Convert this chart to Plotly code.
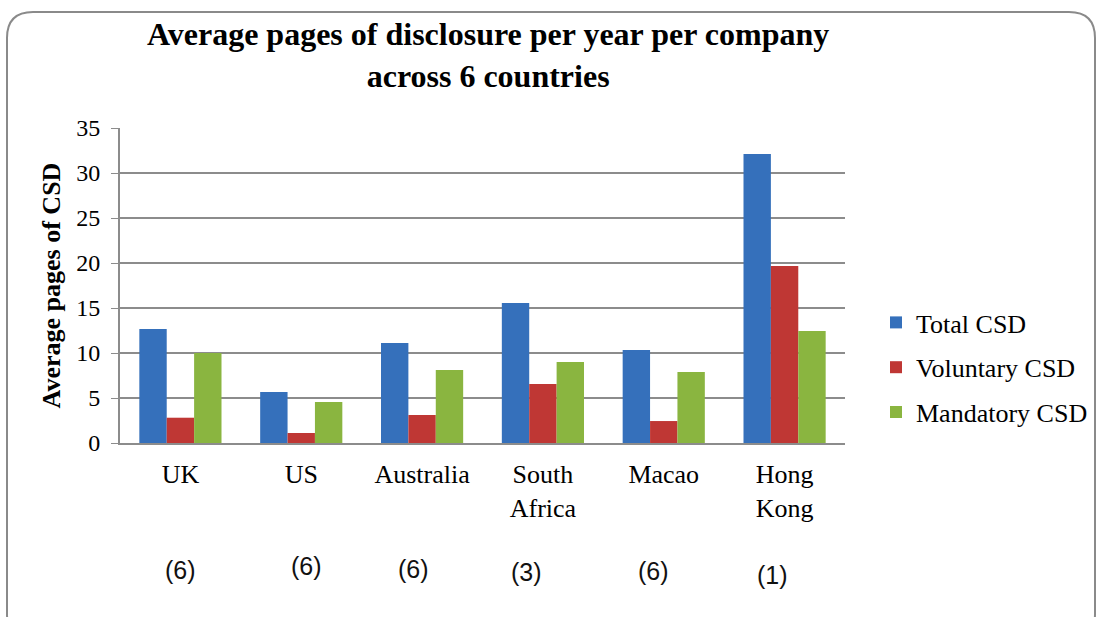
import plotly.graph_objects as go

# Average pages of CSD per company per year, by country
countries = ["UK", "US", "Australia", "South<br>Africa", "Macao", "Hong<br>Kong"]
total_csd = [12.67, 5.67, 11.1, 15.56, 10.33, 32.1]
voluntary_csd = [2.81, 1.11, 3.11, 6.56, 2.44, 19.67]
mandatory_csd = [10.0, 4.56, 8.1, 9.0, 7.89, 12.44]
# number of companies sampled in each country
sample_sizes = [6, 6, 6, 3, 6, 1]

series = [
    ("Total CSD", total_csd, "#3570bb"),
    ("Voluntary CSD", voluntary_csd, "#bf3734"),
    ("Mandatory CSD", mandatory_csd, "#8ab540"),
]

W, H = 1099, 617
L, R, T, B = 120, 254, 128, 174
pw, ph = W - L - R, H - T - B

fig = go.Figure()
for i, (name, vals, col) in enumerate(series):
    fig.add_trace(go.Bar(
        x=countries, y=vals, name=name, marker_color=col,
        marker_line_width=0, legendgroup=f"g{i}",
    ))

serif = "Liberation Serif, Times New Roman, serif"


def px_x(px):
    return (px - L) / pw


def px_y(py):
    return (H - B - py) / ph


# sample-size labels beneath the category names
count_shift = [(0, -127), (5, -123), (-9, -126), (-16, -129), (-10, -128), (-12, -132)]
annotations = []
for cat, n, (dx, dy) in zip(countries, sample_sizes, count_shift):
    annotations.append(dict(
        x=cat, xref="x", y=0, yref="y", text=f"({n})", showarrow=False,
        xshift=dx, yshift=dy,
        font=dict(family="Liberation Sans Narrow, Arial Narrow, sans-serif",
                  size=25, color="#111"),
    ))

# chart title
annotations.append(dict(
    x=px_x(488), xref="paper", y=px_y(55), yref="paper",
    xanchor="center", yanchor="middle", showarrow=False,
    text="<b>Average pages of disclosure per year per company<br>across 6 countries</b>",
    font=dict(family=serif, size=32, color="#000"),
))

# rounded frame around the chart (paper coordinates)
x0, x1, y0, y1, r = 7, 1095, 12, 640, 26
path = (
    f"M {px_x(x0 + r)},{px_y(y0)} L {px_x(x1 - r)},{px_y(y0)} "
    f"Q {px_x(x1)},{px_y(y0)} {px_x(x1)},{px_y(y0 + r)} "
    f"L {px_x(x1)},{px_y(y1 - r)} Q {px_x(x1)},{px_y(y1)} {px_x(x1 - r)},{px_y(y1)} "
    f"L {px_x(x0 + r)},{px_y(y1)} Q {px_x(x0)},{px_y(y1)} {px_x(x0)},{px_y(y1 - r)} "
    f"L {px_x(x0)},{px_y(y0 + r)} Q {px_x(x0)},{px_y(y0)} {px_x(x0 + r)},{px_y(y0)} Z"
)

fig.update_layout(
    width=W, height=H,
    margin=dict(l=L, r=R, t=T, b=B, autoexpand=False),
    paper_bgcolor="white", plot_bgcolor="white",
    barmode="group", bargap=0.32, bargroupgap=0,
    font=dict(family=serif, color="#000"),
    legend=dict(
        x=px_x(876), xanchor="left", y=px_y(299), yanchor="top",
        font=dict(family=serif, size=26, color="#000"),
        tracegroupgap=8, itemwidth=30, bgcolor="rgba(0,0,0,0)",
    ),
    xaxis=dict(
        showline=True, linecolor="#8c8c8c", linewidth=2,
        showgrid=False, ticks="", tickfont=dict(family=serif, size=26, color="#000"),
        ticklabelstandoff=7,
    ),
    yaxis=dict(
        range=[0, 35], dtick=5, showline=True, linecolor="#8c8c8c", linewidth=2,
        showgrid=True, gridcolor="#8c8c8c", gridwidth=2,
        ticks="outside", ticklen=7, tickcolor="#8c8c8c", tickwidth=1,
        tickfont=dict(family=serif, size=24, color="#000"),
        ticklabelstandoff=6, zeroline=False,
        title=dict(text="<b>Average pages of CSD</b>", standoff=8,
                   font=dict(family=serif, size=26, color="#000")),
    ),
    annotations=annotations,
    shapes=[dict(type="path", path=path, xref="paper", yref="paper",
                 line=dict(color="#8a8a8a", width=2), layer="below")],
)

fig.write_html("out.html")
